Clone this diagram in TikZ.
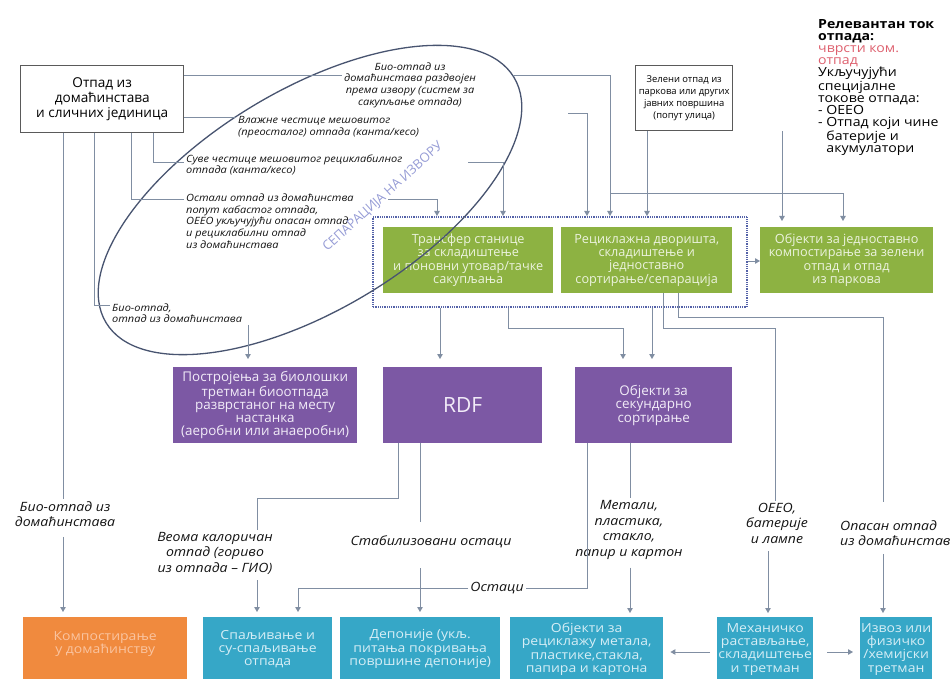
\documentclass[tikz,border=0pt]{standalone}
\usepackage{fontspec}
\setmainfont{Open Sans}
\newfontfamily\lbf[FakeStretch=1.1]{Open Sans}
\newfontfamily\bxw[FakeStretch=1.12]{Open Sans}
\usetikzlibrary{arrows.meta}
\definecolor{conncol}{RGB}{128,142,162}
\definecolor{gfill}{RGB}{141,178,66}
\definecolor{gtext}{RGB}{236,243,222}
\definecolor{pfill}{RGB}{124,88,164}
\definecolor{ptext}{RGB}{242,236,248}
\definecolor{tfill}{RGB}{54,167,199}
\definecolor{ttext}{RGB}{214,238,246}
\definecolor{ofill}{RGB}{240,138,62}
\definecolor{otext}{RGB}{250,196,160}
\definecolor{ellcol}{RGB}{72,84,112}
\definecolor{sepcol}{RGB}{150,156,214}
\definecolor{legred}{RGB}{222,96,110}
\definecolor{dotcol}{RGB}{84,98,168}
\definecolor{srcborder}{RGB}{90,90,90}
\definecolor{lbltext}{RGB}{20,20,20}
\tikzset{
  conn/.style={draw=conncol,line width=0.9pt},
  arr/.style={conn,-{Triangle[width=5.5pt,length=5pt]}},
  srcbox/.style={draw=srcborder,line width=1.4pt,fill=white,align=center,inner sep=2pt,anchor=north west},
  gbox/.style={fill=gfill,text=gtext,align=center,inner sep=1pt,anchor=north west,minimum height=66pt,font={\fontsize{12.7}{13.3}\selectfont}},
  pbox/.style={fill=pfill,text=ptext,align=center,inner sep=1pt,anchor=north west,minimum height=76pt,font={\fontsize{13.4}{13.3}\selectfont}},
  tbox/.style={fill=tfill,text=ttext,align=center,inner sep=1pt,anchor=north west,minimum height=64pt,font={\bxw\fontsize{12.5}{13.4}\selectfont}},
  obox/.style={fill=ofill,text=otext,align=center,inner sep=1pt,anchor=north west,minimum height=64pt,font={\bxw\fontsize{12.5}{13.4}\selectfont}},
  lbl/.style={text=lbltext,inner sep=2pt,font={\lbf\itshape\fontsize{10}{11.6}\selectfont}},
  lblb/.style={text=lbltext,inner sep=2pt,align=center,font={\lbf\itshape\fontsize{12.8}{15.5}\selectfont}},
}
\begin{document}
\begin{tikzpicture}[x=1pt,y=-1pt]
\clip (0,0) rectangle (950,679);
\fill[white] (0,0) rectangle (950,679);

% sources
\node[srcbox,minimum width=163pt,minimum height=67pt,font={\fontsize{13.6}{15}\selectfont}] (src) at (20,65) {Отпад из\\домаћинстава\\и сличних јединица};
\node[srcbox,minimum width=97pt,minimum height=65pt,font={\fontsize{9.4}{11.8}\selectfont}] (zel) at (635,65) {Зелени отпад из\\паркова или других\\јавних површина\\(попут улица)};

% legend
\node[anchor=north west,align=left,inner sep=0pt,font={\bxw\fontsize{12.6}{12.2}\selectfont}] (leg) at (818,19) {\textbf{Релевантан ток}\\\textbf{отпада:}\\\textcolor{legred}{чврсти ком.}\\\textcolor{legred}{отпад}\\Укључујући\\специјалне\\токове отпада:\\- ОЕЕО\\- Отпад који чине\\\hphantom{- }батерије и\\\hphantom{- }акумулатори};

% dotted group and green boxes
\node[draw=dotcol,line width=1.6pt,dash pattern=on 0.9pt off 0.9pt,minimum width=374pt,minimum height=90pt,anchor=north west,inner sep=0pt] (dot) at (372,216) {};
\node[gbox,minimum width=170pt] (tr) at (383,227) {Трансфер станице\\за складиштење\\и поновни утовар/тачке\\сакупљања};
\node[gbox,minimum width=171pt] (rec) at (561,227) {Рециклажна дворишта,\\складиштење и\\једноставно\\сортирање/сепарација};
\node[gbox,minimum width=173pt] (comp) at (760,227) {Објекти за једноставно\\компостирање за зелени\\отпад и отпад\\из паркова};

% purple
\node[pbox,minimum width=184pt] (bio) at (173,367) {Постројења за биолошки\\третман биоотпада\\разврстаног на месту\\настанка\\(аеробни или анаеробни)};
\node[pbox,minimum width=159pt,font={\fontsize{21}{24}\selectfont}] (rdf) at (383,367) {RDF};
\node[pbox,minimum width=157pt] (sec) at (575,367) {Објекти за\\секундарно\\сортирање};

% bottom
\node[obox,minimum width=164pt] (hc) at (23,617) {Компостирање\\у домаћинству\\~};
\node[tbox,minimum width=129pt] (inc) at (203,617) {Спаљивање и\\су-спаљивање\\отпада};
\node[tbox,minimum width=160pt] (dep) at (340,617) {Депоније (укљ.\\питања покривања\\површине депоније)};
\node[tbox,minimum width=153pt] (rcy) at (510,617) {Објекти за\\рециклажу метала,\\пластике,стакла,\\папира и картона};
\node[tbox,minimum width=96pt] (mech) at (717,617) {Механичко\\растављање,\\складиштење\\и третман};
\node[tbox,minimum width=72pt] (exp) at (860,617) {Извоз или\\физичко\\/хемијски\\третман};

% labels
\node[lbl,align=center] (L1) at (410,85) {Био-отпад из\\домаћинстава раздвојен\\према извору (систем за\\сакупљање отпада)};
\node[lbl,align=left,anchor=west] (L2) at (236,127) {Влажне честице мешовитог\\(преосталог) отпада (канта/кесо)};
\node[lbl,align=left,anchor=west] (L3) at (184,165) {Суве честице мешовитог рециклабилног\\отпада (канта/кесо)};
\node[lbl,align=left,anchor=west] (L4) at (184,221) {Остали отпад из домаћинства\\попут кабастог отпада,\\ОЕЕО укључујући опасан отпад\\и рециклабилни отпад\\из домаћинстава};
\node[lbl,align=left,anchor=west] (L5) at (110,313) {Био-отпад,\\отпад из домаћинстава};
\node[lblb] (L6) at (65,514) {Био-отпад из\\домаћинстава};
\node[lblb] (L7) at (215,553) {Веома калоричан\\отпад (гориво\\из отпада – ГИО)};
\node[lblb] (L8) at (431,542) {Стабилизовани остаци};
\node[lblb] (L9) at (497,588) {Остаци};
\node[lblb] (L10) at (629,530) {Метали,\\пластика,\\стакло,\\папир и картон};
\node[lblb] (L11) at (777,523) {ОЕЕО,\\батерије\\и лампе};
\node[lblb,align=left,anchor=west] (L12) at (838,533) {Опасан отпад\\из домаћинстава};

% separation ellipse
\draw[ellcol,line width=1.3pt,rotate around={31:(310,200)}] (310,200) ellipse [x radius=238pt,y radius=110pt];
\node[text=sepcol,rotate=42,inner sep=0pt,font={\fontsize{13}{13}\selectfont}] (sep) at (383,197) {СЕПАРАЦИЈА НА ИЗВОРУ};

% connectors top
\draw[conn] (src.east |- 0,75) -- (L1.west |- 0,75);
\coordinate (j1) at (513,75);
\draw[arr] (j1) -- (j1 -| 610,0) -- (610,0 |- dot.north);
\coordinate (j2) at (610,193);
\draw[arr,shorten >=6pt] (j2) -- (j2 -| 843,0) -- (843,0 |- comp.north);
\draw[conn] (src.east |- 0,117) -- (L2.west |- 0,117);
\coordinate (j3) at (568,113);
\draw[arr] (j3) -- (j3 -| 587,0) -- (587,0 |- dot.north);
\draw[conn] (153,0 |- src.south) |- (L3.west |- 0,162);
\coordinate (j4) at (468,162);
\draw[arr] (j4) -- (j4 -| 503,0) -- (503,0 |- dot.north);
\draw[conn] (131,0 |- src.south) |- (L4.west |- 0,199);
\coordinate (j5) at (388,199);
\draw[arr] (j5) -- (j5 -| 437,0) -- (437,0 |- dot.north);
\draw[conn] (94,0 |- src.south) |- (L5.west |- 0,305);
\draw[arr,shorten >=8pt] (248,0 |- L5.south) -- (248,0 |- bio.north);
\draw[conn] (63,0 |- src.south) -- (63,0 |- L6.north);
\draw[arr,shorten >=5pt,shorten <=8pt] (63,0 |- L6.south) -- (63,0 |- hc.north);
\draw[arr] (647,0 |- zel.south) -- (647,0 |- dot.north);
\draw[arr,shorten >=6pt] (782,0 |- zel.south) -- (782,0 |- comp.north);
\draw[arr] (dot.east |- 0,261) -- (comp.west |- 0,261);

% connectors middle
\draw[arr,shorten >=8pt] (440,0 |- dot.south) -- (440,0 |- rdf.north);
\draw[arr,shorten >=8pt] (508,0 |- dot.south) |- (623,328) -- (623,0 |- sec.north);
\draw[arr,shorten >=8pt] (652,0 |- dot.south) -- (652,0 |- sec.north);
\draw[conn] (663,0 |- rec.south) |- (775,328) -- (775,0 |- L11.north);
\draw[arr,shorten >=4pt,shorten <=6pt] (768,0 |- L11.south) -- (768,0 |- mech.north);
\draw[conn,shorten >=16pt] (678,0 |- rec.south) |- (883,317) -- (883,0 |- L12.north);
\draw[arr,shorten >=4pt,shorten <=6pt] (883,0 |- L12.south) -- (883,0 |- exp.north);

% connectors lower
\draw[conn] (398,0 |- rdf.south) -- (398,498) -| (257,0 |- L7.north);
\draw[arr,shorten >=5pt,shorten <=4pt] (257,0 |- L7.south) -- (257,0 |- inc.north);
\draw[conn,shorten >=12pt] (420,0 |- rdf.south) -- (420,0 |- L8.north);
\draw[arr,shorten >=5pt,shorten <=18pt] (420,0 |- L8.south) -- (420,0 |- dep.north);
\draw[conn] (587,0 |- sec.south) |- (L9.east);
\draw[arr,shorten >=5pt] (L9.west) -| (298,0 |- inc.north);
\draw[conn] (630,0 |- sec.south) -- (630,0 |- L10.north);
\draw[arr,shorten >=4pt,shorten <=6pt] (630,0 |- L10.south) -- (630,0 |- rcy.north);
\draw[arr,shorten <=7pt,shorten >=7pt] (mech.west |- 0,652) -- (rcy.east |- 0,652);
\draw[arr,shorten <=14pt,shorten >=7pt] (mech.east |- 0,652) -- (exp.west |- 0,652);
\end{tikzpicture}
\end{document}
